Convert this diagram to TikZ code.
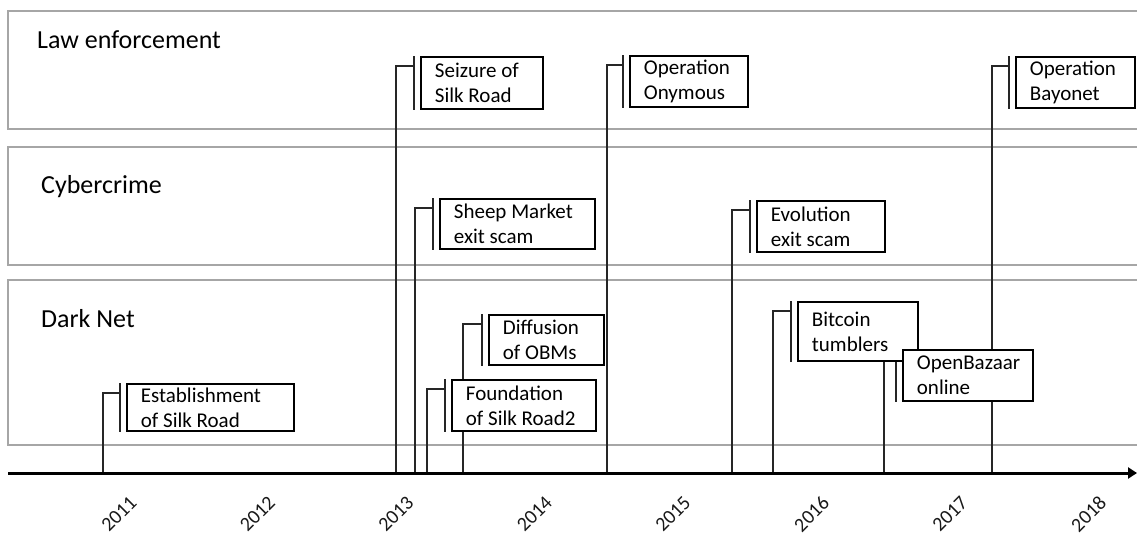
\documentclass[tikz,border=0pt]{standalone}
\usepackage{fontspec}
\setmainfont{Carlito}
\usetikzlibrary{arrows.meta,backgrounds}
\newcommand\lanefont{\fontsize{26}{30}\selectfont}
\newcommand\boxfont{\fontsize{21}{25}\selectfont}
\newcommand\yearfont{\fontsize{20}{24}\selectfont}
\tikzset{
  lane/.style={draw=black!35, line width=2pt},
  lanelabel/.style={anchor=base west, inner sep=0pt, font=\lanefont},
  evbox/.style={draw, line width=1.8pt, fill=white, anchor=north west, inner xsep=14pt, inner ysep=0pt, align=flush left, font=\boxfont},
  evline/.style={line width=1.6pt, black!85},
  year/.style={rotate=45, font=\yearfont, text=black!90, inner sep=1pt},
}

\begin{document}
\begin{tikzpicture}[x=1pt, y=-1pt]
  \useasboundingbox (0,0) rectangle (1137,538);
  % lanes
  \begin{pgfonlayer}{background}
    \begin{scope}
      \clip (0,0) rectangle (1137,538);
      \draw[lane] (8,11) rectangle (1150,129);
      \draw[lane] (8,147) rectangle (1150,265);
      \draw[lane] (8,280) rectangle (1150,445);
    \end{scope}
  \end{pgfonlayer}
  \node[lanelabel] (law) at (37,48) {Law enforcement};
  \node[lanelabel] (cyber) at (41,193) {Cybercrime};
  \node[lanelabel] (dark) at (41,327) {Dark Net};

  % time axis
  \coordinate (t0) at (8,473);
  \coordinate (t1) at (1137,473);
  \draw[line width=3pt, -{Triangle[length=9pt,width=11pt]}] (t0) -- (t1);
  \foreach \yr [count=\i from 0] in {2011,2012,2013,2014,2015,2016,2017,2018}
    \node[year] (y\yr) at (119+138.5*\i,514) {\yr};

  % events
  \foreach \nm/\xa/\bx/\by/\bw/\bh/\txt in {
      est/103/126/383/167/47/{Establishment\\of Silk Road},
      seiz/396/420/56/122/52/{Seizure of\\Silk Road},
      onym/607/629/55/118/51/{Operation\\Onymous},
      bayo/992/1015/56/119/51/{Operation\\Bayonet},
      sheep/415/439/198/155/50/{Sheep Market\\exit scam},
      evol/732/756/200/128/51/{Evolution\\exit scam},
      diff/463/488/314/115/50/{Diffusion\\of OBMs},
      found/427/451/379/144/51/{Foundation\\of Silk Road2},
      btc/773/797/301/120/59/{Bitcoin\\tumblers},
      obz/884/902/349/130/51/{OpenBazaar\\online}}{
    \pgfmathsetmacro\tw{\bw-28}
    \node[evbox, minimum width=\bw pt, minimum height=\bh pt, text width=\tw pt] (\nm) at (\bx,\by) {\txt};
    \begin{pgfonlayer}{background}
      \coordinate (t\nm) at (\xa,473);
      \draw[evline] ([xshift=-6pt]\nm.north west) -- ([xshift=-6pt]\nm.south west);
      \draw[evline] (t\nm) |- ([xshift=-6pt,yshift=-10pt]\nm.north west);
    \end{pgfonlayer}
  }
\end{tikzpicture}
\end{document}
